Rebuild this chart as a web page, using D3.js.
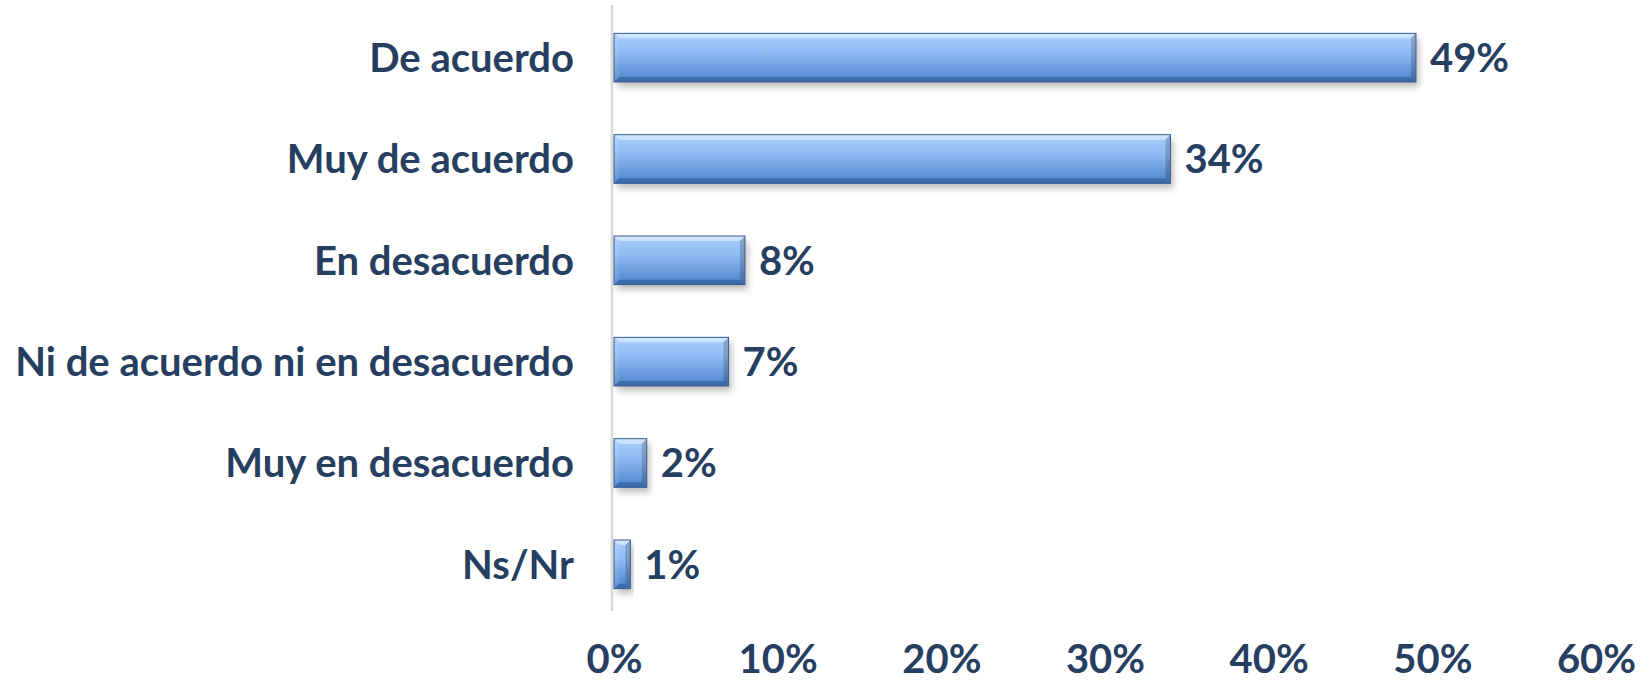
<!DOCTYPE html>
<html><head><meta charset="utf-8">
<script src="https://cdn.jsdelivr.net/npm/d3@7"></script>
<style>html,body{margin:0;padding:0;background:#fff;}svg{display:block;}</style>
</head><body>
<svg id="chart" width="1651" height="686"></svg>
<script>
const categories = ["De acuerdo","Muy de acuerdo","En desacuerdo","Ni de acuerdo ni en desacuerdo","Muy en desacuerdo","Ns/Nr"];
const values = [49,34,8,7,2,1];
const tickValues = [0,10,20,30,40,50,60];

const svg = d3.select("#chart");
const textColor = "#263f61";
const font = "Lato, 'Open Sans', sans-serif";
const fs = 40;

const x = d3.scaleLinear().domain([0,60]).range([614,1596]);
const y = d3.scaleBand().domain(categories).range([7,615]).paddingInner(0.52).paddingOuter(0.26);

const defs = svg.append("defs");
const g1 = defs.append("linearGradient").attr("id","face").attr("x1",0).attr("y1",0).attr("x2",0).attr("y2",1);
g1.append("stop").attr("offset","0%").attr("stop-color","#a9cefb");
g1.append("stop").attr("offset","40%").attr("stop-color","#8fbaf3");
g1.append("stop").attr("offset","100%").attr("stop-color","#4d83cc");
const f = defs.append("filter").attr("id","shadow").attr("x","-10%").attr("y","-30%").attr("width","130%").attr("height","180%");
f.append("feDropShadow").attr("dx",3).attr("dy",5).attr("stdDeviation",3).attr("flood-color","#000").attr("flood-opacity",0.25);

// axis line
svg.append("line").attr("x1",x(0)-2).attr("x2",x(0)-2).attr("y1",5).attr("y2",611)
  .attr("stroke","#d9d9d9").attr("stroke-width",2.5);

const bars = svg.append("g").selectAll("g").data(categories).join("g");
const b = 5;
bars.each(function(c,i){
  const gg = d3.select(this);
  const x0 = x(0), x1 = x(values[i]), y0 = y(c), y1 = y(c)+y.bandwidth();
  const w = x1-x0, bb = Math.min(b, w/2);
  gg.append("rect").attr("x",x0).attr("y",y0).attr("width",w).attr("height",y1-y0)
    .attr("fill","url(#face)").attr("filter","url(#shadow)");
  gg.append("path").attr("d",`M${x0},${y0}L${x1},${y0}L${x1-bb},${y0+b}L${x0+bb},${y0+b}Z`).attr("fill","#fff").attr("opacity",0.45);
  gg.append("path").attr("d",`M${x0},${y0}L${x0+bb},${y0+b}L${x0+bb},${y1-b}L${x0},${y1}Z`).attr("fill","#fff").attr("opacity",0.1);
  gg.append("path").attr("d",`M${x1},${y0}L${x1},${y1}L${x1-bb},${y1-b}L${x1-bb},${y0+b}Z`).attr("fill","#000").attr("opacity",0.18);
  gg.append("path").attr("d",`M${x0},${y1}L${x0+bb},${y1-b}L${x1-bb},${y1-b}L${x1},${y1}Z`).attr("fill","#0b2a55").attr("opacity",0.3);
  gg.append("rect").attr("x",x0).attr("y",y0).attr("width",w).attr("height",y1-y0)
    .attr("fill","none").attr("stroke","#3a5e8e").attr("stroke-width",1);
});

svg.append("g").selectAll("text").data(categories).join("text")
  .attr("x",574).attr("y",d=>y(d)+y.bandwidth()/2).attr("dy","0.36em")
  .attr("text-anchor","end").attr("font-family",font).attr("font-weight","bold")
  .attr("font-size",fs).attr("fill",textColor).text(d=>d);

svg.append("g").selectAll("text").data(categories).join("text")
  .attr("x",(d,i)=>x(values[i])+14).attr("y",d=>y(d)+y.bandwidth()/2).attr("dy","0.36em")
  .attr("font-family",font).attr("font-weight","bold")
  .attr("font-size",fs).attr("fill",textColor).text((d,i)=>values[i]+"%");

const ax = svg.append("g").attr("transform","translate(0,645)")
  .call(d3.axisBottom(x).tickValues(tickValues).tickFormat(d=>d+"%").tickSize(0).tickPadding(0));
ax.select(".domain").remove();
ax.selectAll("text").attr("font-family",font).attr("font-weight","bold")
  .attr("font-size",fs).attr("fill",textColor).attr("dy","0.71em");
</script>
</body></html>
